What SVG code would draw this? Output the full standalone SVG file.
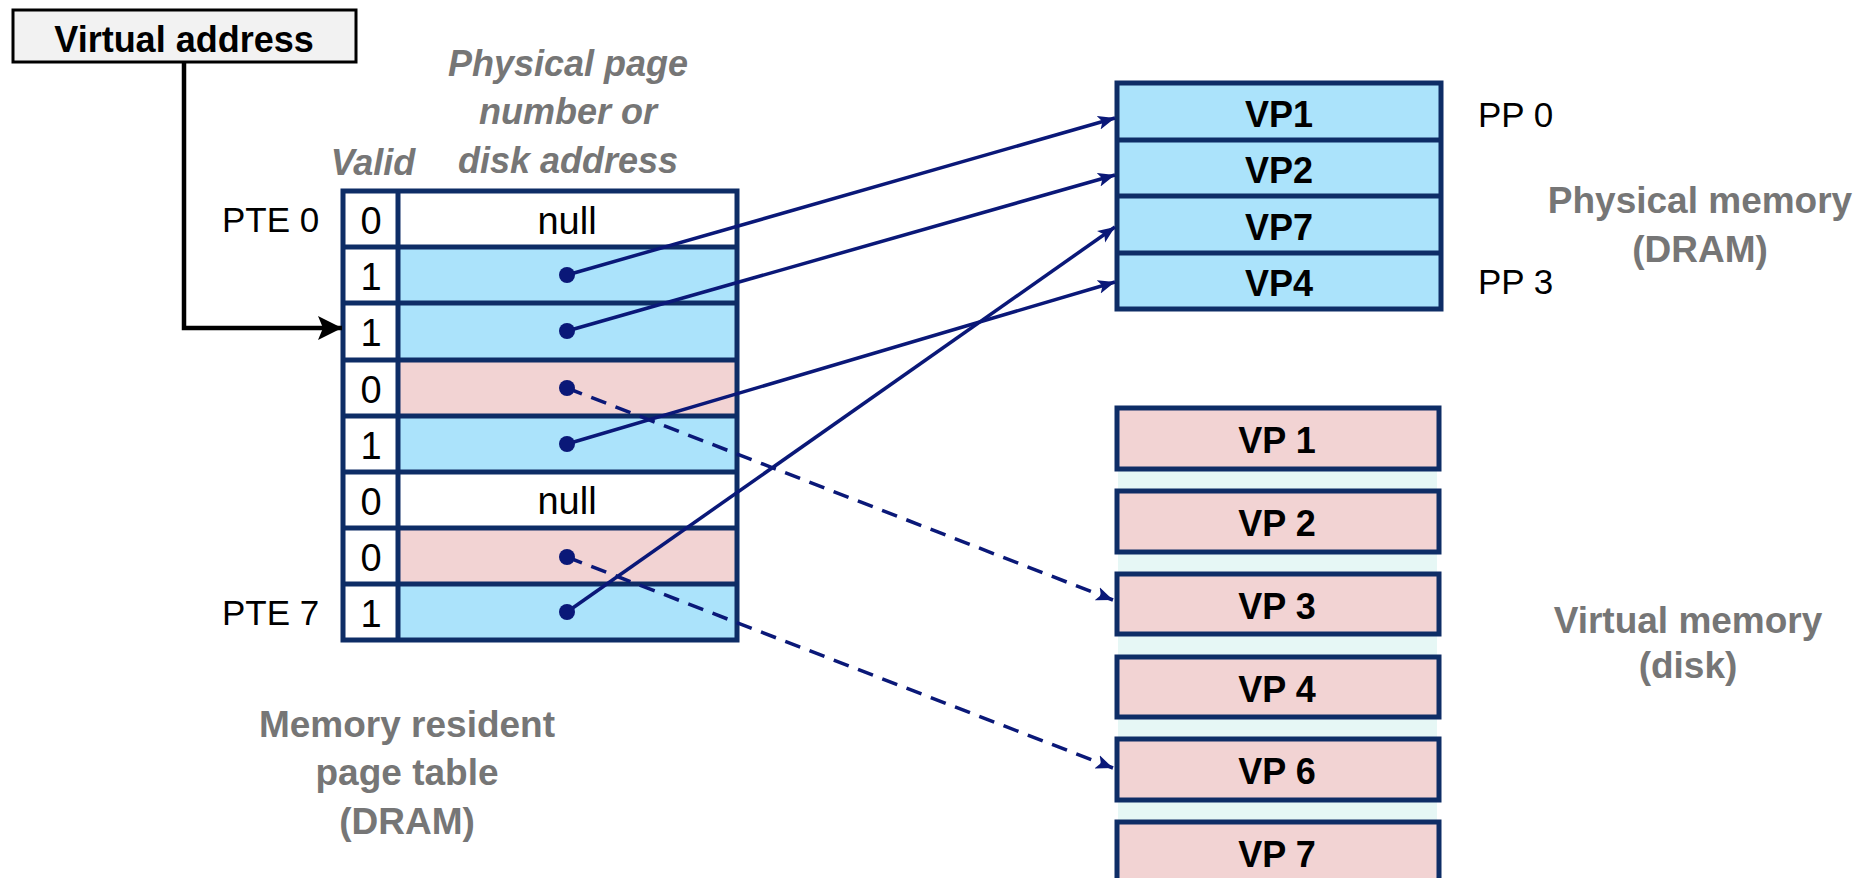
<svg xmlns="http://www.w3.org/2000/svg" width="1870" height="878" viewBox="0 0 1870 878">
<defs>
<style>
text{font-family:"Liberation Sans",Arial,sans-serif;}
.n{font-size:35px;fill:#000;}
.t{font-size:38px;fill:#000;}
.b{font-size:36px;font-weight:bold;fill:#000;}
.g{font-size:37px;font-weight:bold;fill:#767676;}
.gi{font-size:36px;font-weight:bold;font-style:italic;fill:#767676;}
.c{text-anchor:middle;}
.grid{fill:none;stroke:#0e2d66;stroke-width:5;}
.blue{fill:#abe3fb;}
.pink{fill:#f2d3d3;}
.white{fill:#ffffff;}
.conn{stroke:#0a1878;stroke-width:3.5;fill:none;}
.dash{stroke-dasharray:16 10;}
.dot{fill:#0a1878;}
</style>
<marker id="ah" markerUnits="userSpaceOnUse" markerWidth="18" markerHeight="16" refX="17" refY="8" orient="auto">
<path d="M0,1 L17,8 L0,15 L4,8 z" fill="#0a1878"/>
</marker>
<marker id="ahk" markerUnits="userSpaceOnUse" markerWidth="26" markerHeight="26" refX="24" refY="12" orient="auto">
<path d="M0,0 L24,12 L0,24 L5,12 z" fill="#000"/>
</marker>
</defs>
<rect width="1870" height="878" fill="#ffffff"/>

<g id="virtual-address">
<rect x="13" y="10" width="343" height="52" fill="#f2f2f2" stroke="#000" stroke-width="3"/>
<text class="b c" x="184" y="52">Virtual address</text>
</g>

<g id="header-labels">
<text class="gi c" x="568" y="76">Physical page</text>
<text class="gi c" x="568" y="124">number or</text>
<text class="gi c" x="568" y="173">disk address</text>
<text class="gi c" x="373" y="175">Valid</text>
</g>

<g id="pte-labels">
<text class="n" x="222" y="232">PTE 0</text>
<text class="n" x="222" y="625">PTE 7</text>
</g>

<g id="page-table">
<g id="pte0"><rect class="white" x="343" y="191" width="394" height="56"/><text class="t c" x="371" y="234">0</text><text class="t c" x="567" y="234">null</text></g>
<g id="pte1"><rect class="white" x="343" y="247" width="55" height="56"/><rect class="blue" x="398" y="247" width="339" height="56"/><text class="t c" x="371" y="290">1</text></g>
<g id="pte2"><rect class="white" x="343" y="303" width="55" height="57"/><rect class="blue" x="398" y="303" width="339" height="57"/><text class="t c" x="371" y="346">1</text></g>
<g id="pte3"><rect class="white" x="343" y="360" width="55" height="56"/><rect class="pink" x="398" y="360" width="339" height="56"/><text class="t c" x="371" y="403">0</text></g>
<g id="pte4"><rect class="white" x="343" y="416" width="55" height="56"/><rect class="blue" x="398" y="416" width="339" height="56"/><text class="t c" x="371" y="459">1</text></g>
<g id="pte5"><rect class="white" x="343" y="472" width="394" height="56"/><text class="t c" x="371" y="515">0</text><text class="t c" x="567" y="514">null</text></g>
<g id="pte6"><rect class="white" x="343" y="528" width="55" height="56"/><rect class="pink" x="398" y="528" width="339" height="56"/><text class="t c" x="371" y="571">0</text></g>
<g id="pte7"><rect class="white" x="343" y="584" width="55" height="56"/><rect class="blue" x="398" y="584" width="339" height="56"/><text class="t c" x="371" y="627">1</text></g>
<path class="grid" d="M343,247 H737 M343,303 H737 M343,360 H737 M343,416 H737 M343,472 H737 M343,528 H737 M343,584 H737 M398,191 V640"/>
<rect class="grid" x="343" y="191" width="394" height="449"/>
<text class="g c" x="407" y="737">Memory resident</text>
<text class="g c" x="407" y="785">page table</text>
<text class="g c" x="407" y="834">(DRAM)</text>
</g>

<g id="physical-memory">
<g id="pp0"><rect class="blue" x="1117" y="83" width="324" height="57"/><text class="b c" x="1279" y="127">VP1</text></g>
<g id="pp1"><rect class="blue" x="1117" y="140" width="324" height="56"/><text class="b c" x="1279" y="183">VP2</text></g>
<g id="pp2"><rect class="blue" x="1117" y="196" width="324" height="57"/><text class="b c" x="1279" y="240">VP7</text></g>
<g id="pp3"><rect class="blue" x="1117" y="253" width="324" height="56"/><text class="b c" x="1279" y="296">VP4</text></g>
<path class="grid" d="M1117,140 H1441 M1117,196 H1441 M1117,253 H1441"/>
<rect class="grid" x="1117" y="83" width="324" height="226"/>
</g>

<g id="pp-labels">
<text class="n" x="1478" y="127">PP 0</text>
<text class="n" x="1478" y="294">PP 3</text>
<text class="g c" x="1700" y="213">Physical memory</text>
<text class="g c" x="1700" y="262">(DRAM)</text>
</g>

<g id="disk">
<rect x="1118" y="469" width="319" height="409" fill="#e6f7f5"/>
<g id="disk-vp1"><rect class="pink" x="1117" y="408" width="322" height="61" stroke="#0e2d66" stroke-width="5"/><text class="b c" x="1277" y="453">VP 1</text></g>
<g id="disk-vp2"><rect class="pink" x="1117" y="491" width="322" height="61" stroke="#0e2d66" stroke-width="5"/><text class="b c" x="1277" y="536">VP 2</text></g>
<g id="disk-vp3"><rect class="pink" x="1117" y="574" width="322" height="60" stroke="#0e2d66" stroke-width="5"/><text class="b c" x="1277" y="619">VP 3</text></g>
<g id="disk-vp4"><rect class="pink" x="1117" y="657" width="322" height="60" stroke="#0e2d66" stroke-width="5"/><text class="b c" x="1277" y="702">VP 4</text></g>
<g id="disk-vp6"><rect class="pink" x="1117" y="739" width="322" height="61" stroke="#0e2d66" stroke-width="5"/><text class="b c" x="1277" y="784">VP 6</text></g>
<g id="disk-vp7"><rect class="pink" x="1117" y="822" width="322" height="70" stroke="#0e2d66" stroke-width="5"/><text class="b c" x="1277" y="867">VP 7</text></g>
</g>

<g id="disk-label">
<text class="g c" x="1688" y="633">Virtual memory</text>
<text class="g c" x="1688" y="678">(disk)</text>
</g>

<g id="connectors">
<path d="M184,62 V328 H342" fill="none" stroke="#000" stroke-width="4.5" marker-end="url(#ahk)"/>
<line class="conn" x1="567" y1="275" x2="1115" y2="118" marker-end="url(#ah)"/>
<line class="conn" x1="567" y1="331" x2="1115" y2="175" marker-end="url(#ah)"/>
<line class="conn" x1="567" y1="444" x2="1115" y2="282" marker-end="url(#ah)"/>
<line class="conn" x1="567" y1="612" x2="1115" y2="227" marker-end="url(#ah)"/>
<line class="conn dash" x1="567" y1="388" x2="1113" y2="600" marker-end="url(#ah)"/>
<line class="conn dash" x1="567" y1="557" x2="1113" y2="768" marker-end="url(#ah)"/>
<circle class="dot" cx="567" cy="275" r="8"/>
<circle class="dot" cx="567" cy="331" r="8"/>
<circle class="dot" cx="567" cy="388" r="8"/>
<circle class="dot" cx="567" cy="444" r="8"/>
<circle class="dot" cx="567" cy="557" r="8"/>
<circle class="dot" cx="567" cy="612" r="8"/>
</g>
</svg>
